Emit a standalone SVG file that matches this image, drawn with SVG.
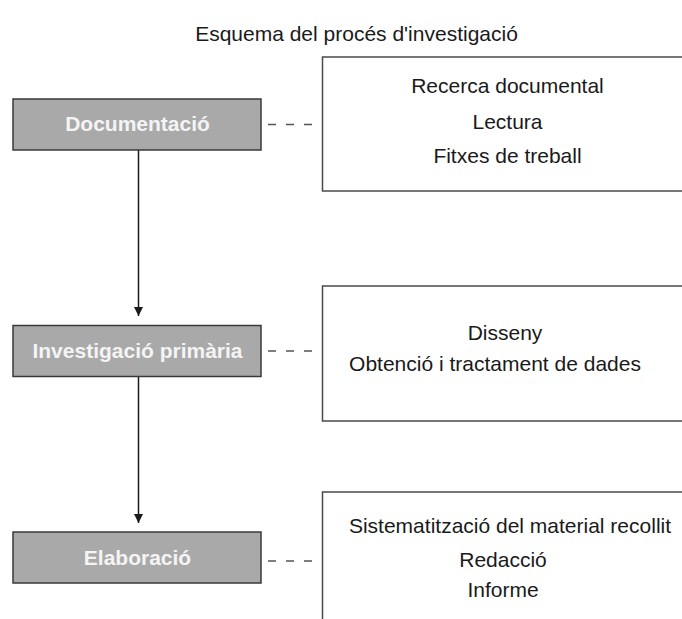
<svg xmlns="http://www.w3.org/2000/svg" width="682" height="619" viewBox="0 0 682 619">
  <defs>
    <style>
      .title { font-family: "Liberation Sans", Arial, sans-serif; font-size: 21px; fill: #1a1a1a; text-anchor: middle; }
      .step rect { fill: #a9a9a9; stroke: #3a3a3a; stroke-width: 1.5; }
      .step text { font-family: "Liberation Sans", Arial, sans-serif; font-size: 21px; font-weight: bold; fill: #f4f4f4; text-anchor: middle; }
      .detail rect { fill: #ffffff; stroke: #4a4a4a; stroke-width: 1.5; }
      .detail text { font-family: "Liberation Sans", Arial, sans-serif; font-size: 21px; fill: #1a1a1a; text-anchor: middle; }
      .arrow { stroke: #1a1a1a; stroke-width: 1.5; fill: none; marker-end: url(#head); }
      .dash { stroke: #555555; stroke-width: 1.5; fill: none; stroke-dasharray: 8 10; }
    </style>
    <marker id="head" viewBox="0 0 10 10" refX="10" refY="5" markerWidth="10" markerHeight="9" markerUnits="userSpaceOnUse" orient="auto">
      <path d="M0,0 L10,5 L0,10 Z" fill="#1a1a1a"/>
    </marker>
  </defs>

  <text class="title" x="356.5" y="41">Esquema del procés d'investigació</text>

  <g id="connectors">
    <line class="arrow" x1="138.5" y1="150" x2="138.5" y2="316"/>
    <line class="arrow" x1="138.5" y1="377" x2="138.5" y2="523"/>
    <line class="dash" x1="268" y1="124.5" x2="322" y2="124.5"/>
    <line class="dash" x1="268" y1="351" x2="322" y2="351"/>
    <line class="dash" x1="268" y1="561" x2="322" y2="561"/>
  </g>

  <g id="documentacio" class="step">
    <rect x="13" y="99" width="248" height="51"/>
    <text x="137.5" y="131">Documentació</text>
  </g>
  <g id="investigacio" class="step">
    <rect x="13" y="325.5" width="248" height="51"/>
    <text x="137.5" y="358">Investigació primària</text>
  </g>
  <g id="elaboracio" class="step">
    <rect x="13" y="532" width="248" height="51"/>
    <text x="137.5" y="565">Elaboració</text>
  </g>

  <g id="detall-documentacio" class="detail">
    <rect x="322.5" y="57" width="400" height="134"/>
    <text x="507.5" y="93">Recerca documental</text>
    <text x="507.5" y="129">Lectura</text>
    <text x="507.5" y="163">Fitxes de treball</text>
  </g>
  <g id="detall-investigacio" class="detail">
    <rect x="322.5" y="286" width="400" height="135"/>
    <text x="505" y="340">Disseny</text>
    <text x="495" y="370.5">Obtenció i tractament de dades</text>
  </g>
  <g id="detall-elaboracio" class="detail">
    <rect x="322.5" y="492" width="400" height="200"/>
    <text x="510" y="533">Sistematització del material recollit</text>
    <text x="503" y="566.5">Redacció</text>
    <text x="503" y="596.5">Informe</text>
  </g>
</svg>
